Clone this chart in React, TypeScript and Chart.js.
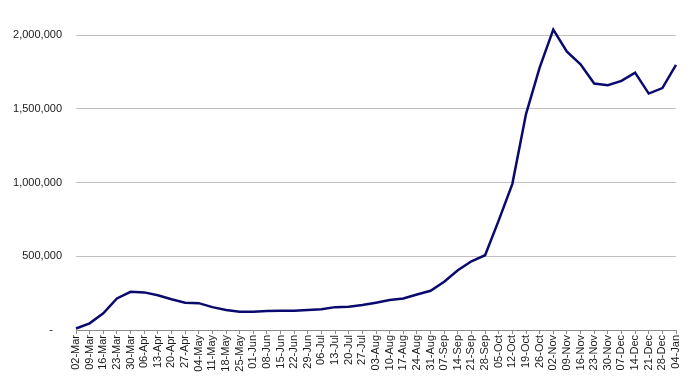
import React, { useEffect, useRef } from "react";
import { Chart, registerables } from "chart.js";

Chart.register(...registerables);

const categories: string[] = [
  "02-Mar", "09-Mar", "16-Mar", "23-Mar", "30-Mar",
  "06-Apr", "13-Apr", "20-Apr", "27-Apr",
  "04-May", "11-May", "18-May", "25-May",
  "01-Jun", "08-Jun", "15-Jun", "22-Jun", "29-Jun",
  "06-Jul", "13-Jul", "20-Jul", "27-Jul",
  "03-Aug", "10-Aug", "17-Aug", "24-Aug", "31-Aug",
  "07-Sep", "14-Sep", "21-Sep", "28-Sep",
  "05-Oct", "12-Oct", "19-Oct", "26-Oct",
  "02-Nov", "09-Nov", "16-Nov", "23-Nov", "30-Nov",
  "07-Dec", "14-Dec", "21-Dec", "28-Dec",
  "04-Jan",
];

const values: number[] = [
  10000, 45000, 113000, 214000, 259000,
  255000, 236000, 209000, 185000,
  182000, 155000, 135000, 124000,
  124000, 128000, 130000, 130000, 135000,
  140000, 155000, 158000, 169000,
  185000, 203000, 214000, 241000, 266000,
  327000, 405000, 466000, 507000,
  743000, 991000, 1464000, 1779000,
  2036000, 1887000, 1802000, 1671000, 1660000,
  1689000, 1745000, 1603000, 1640000,
  1797000,
];

const yTicks: number[] = [0, 500000, 1000000, 1500000, 2000000];

export default function App() {
  const ref = useRef<HTMLCanvasElement | null>(null);

  useEffect(() => {
    document.body.style.margin = "0";
    const canvas = ref.current;
    if (!canvas) return;
    const font = { family: "'Liberation Sans', Arial, sans-serif", size: 11 };
    const chart = new Chart(canvas, {
      type: "line",
      data: {
        labels: categories,
        datasets: [
          {
            data: values,
            borderColor: "#0a0a6e",
            borderWidth: 2.5,
            pointRadius: 0,
            tension: 0,
            fill: false,
            clip: false as any,
          },
        ],
      },
      options: {
        animation: false,
        responsive: false,
        maintainAspectRatio: false,
        layout: { padding: { top: 35, right: 21, left: 0, bottom: 0 } },
        plugins: { legend: { display: false }, tooltip: { enabled: false } },
        scales: {
          x: {
            offset: false,
            grid: {
              display: true,
              drawOnChartArea: false,
              drawTicks: true,
              tickLength: 4,
              color: "#8c8c8c",
            },
            border: { display: true, color: "#8c8c8c", width: 1 },
            ticks: {
              autoSkip: false,
              maxRotation: 90,
              minRotation: 90,
              padding: 1,
              color: "#1a1a1a",
              font,
            },
            afterFit: (scale: any) => {
              scale.height = 56;
            },
          },
          y: {
            min: 0,
            max: 2000000,
            afterBuildTicks: (scale: any) => {
              scale.ticks = yTicks.map((v) => ({ value: v }));
            },
            grid: { color: "#c0c0c0", drawTicks: false, lineWidth: 1 },
            border: { display: false },
            ticks: {
              padding: 14,
              color: "#1a1a1a",
              font,
              callback: (v: any) =>
                Number(v) === 0 ? "-   " : Number(v).toLocaleString("en-US"),
            },
            afterFit: (scale: any) => {
              scale.width = 76;
            },
          },
        },
      },
    });
    return () => chart.destroy();
  }, []);

  return (
    <div style={{ position: "absolute", left: 0, top: 0, width: 697, height: 386 }}>
      <canvas ref={ref} width={697} height={386} />
    </div>
  );
}
